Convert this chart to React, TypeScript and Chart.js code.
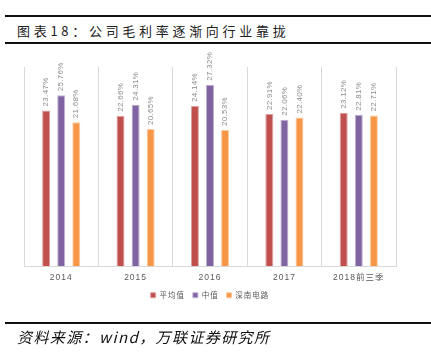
import React, { useEffect, useRef } from "react";
import { Chart, registerables } from "chart.js";

Chart.register(...registerables);

const categories = ["2014", "2015", "2016", "2017", "2018前三季"];
const avgValues = [23.47, 22.66, 24.14, 22.91, 23.12];
const medianValues = [25.76, 24.31, 27.32, 22.06, 22.81];
const szValues = [21.68, 20.65, 20.53, 22.4, 22.71];
const seriesNames = ["平均值", "中值", "深南电路"];

const titleText = "图表18：公司毛利率逐渐向行业靠拢";
const sourceText = "资料来源：wind，万联证券研究所";

const labelPlugin = {
  id: "barLabels",
  beforeLayout(chart: any) {
    chart.ctx.letterSpacing = "1px";
  },
  afterDatasetsDraw(chart: any) {
    const ctx = chart.ctx;
    chart.data.datasets.forEach((ds: any, i: number) => {
      const meta = chart.getDatasetMeta(i);
      meta.data.forEach((bar: any, j: number) => {
        const v = ds.data[j];
        ctx.save();
        ctx.letterSpacing = "0.3px";
        ctx.translate(bar.x, bar.y - 4);
        ctx.rotate(-Math.PI / 2);
        ctx.font = "8px 'Liberation Sans', Arial, sans-serif";
        ctx.fillStyle = "#8c8c8c";
        ctx.textAlign = "left";
        ctx.textBaseline = "middle";
        ctx.fillText(v.toFixed(2) + "%", 0, 0);
        ctx.restore();
      });
    });
  },
};

export default function App() {
  const ref = useRef<HTMLCanvasElement>(null);
  useEffect(() => {
    if (!ref.current) return;
    const chart = new Chart(ref.current, {
      type: "bar",
      data: {
        labels: categories,
        datasets: [
          { label: seriesNames[0], data: avgValues, backgroundColor: "#C0504D", borderColor: "#DDA09E", borderWidth: 1 },
          { label: seriesNames[1], data: medianValues, backgroundColor: "#8064A2", borderColor: "#BFB0D2", borderWidth: 1 },
          { label: seriesNames[2], data: szValues, backgroundColor: "#F79646", borderColor: "#FBCBA2", borderWidth: 1 },
        ],
      },
      options: {
        responsive: false,
        animation: false,
        devicePixelRatio: 1,
        layout: { padding: { left: 24, right: 35, top: 67, bottom: 48 } },
        datasets: { bar: { categoryPercentage: 0.608, barPercentage: 0.53 } },
        plugins: {
          tooltip: { enabled: false },
          legend: {
            position: "bottom",
            labels: {
              boxWidth: 5,
              boxHeight: 5,
              padding: 8,
              color: "#595959",
              font: { size: 7.5, family: "'Noto Sans CJK SC', sans-serif" },
            },
          },
        },
        scales: {
          x: {
            afterFit: (s: any) => {
              s.height -= 5;
            },
            grid: { color: "#d9d9d9", drawTicks: false, offset: true },
            border: { color: "#d9d9d9" },
            ticks: {
              color: "#595959",
              padding: 6,
              maxRotation: 0,
              font: { size: 8.5, family: "'Liberation Sans', 'Noto Sans CJK SC', sans-serif" },
            },
          },
          y: { display: false, min: 0, max: 30 },
        },
      },
      plugins: [labelPlugin],
    } as any);
    return () => chart.destroy();
  }, []);

  return (
    <div style={{ position: "absolute", left: 0, top: 0, width: 431, height: 357, background: "#fff", overflow: "hidden" }}>
      <div style={{ position: "absolute", left: 5, right: 0, top: 15, height: 2, background: "#111" }} />
      <div
        style={{
          position: "absolute",
          left: 17,
          top: 22,
          fontFamily: "'Noto Sans CJK SC', sans-serif",
          fontSize: 13,
          letterSpacing: "3.7px",
          lineHeight: "18px",
          color: "#222",
          whiteSpace: "nowrap",
        }}
      >
        {titleText}
      </div>
      <div style={{ position: "absolute", left: 5, right: 0, top: 42, height: 2, background: "#111" }} />
      <canvas ref={ref} width={431} height={357} style={{ position: "absolute", left: 0, top: 0, width: 431, height: 357 }} />
      <div style={{ position: "absolute", left: 5, right: 0, top: 322, height: 2, background: "#111" }} />
      <div
        style={{
          position: "absolute",
          left: 17,
          top: 327,
          fontFamily: "'Noto Sans CJK SC', sans-serif",
          fontStyle: "italic",
          fontSize: 15,
          letterSpacing: "1.4px",
          lineHeight: "20px",
          color: "#111",
          whiteSpace: "nowrap",
        }}
      >
        {sourceText}
      </div>
    </div>
  );
}
